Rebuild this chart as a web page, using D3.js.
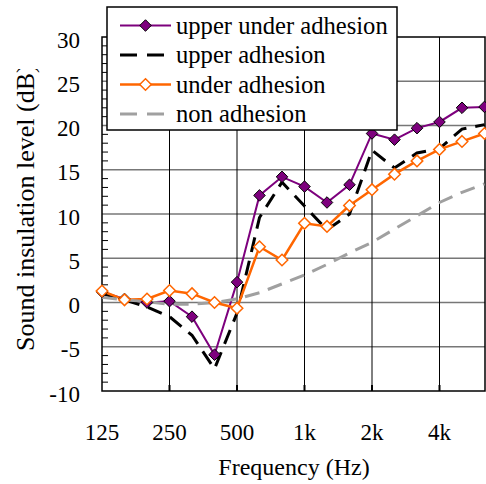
<!DOCTYPE html>
<html>
<head>
<meta charset="utf-8">
<script src="https://cdn.jsdelivr.net/npm/d3@7"></script>
</head>
<body style="margin:0">
<svg id="chart" width="486" height="484"></svg>
<script>
// One-third octave band centre frequencies (Hz)
const bands = [125, 160, 200, 250, 315, 400, 500, 630, 800, 1000, 1250, 1600, 2000, 2500, 3150, 4000, 5000, 6300];
// Octave bands that carry a label and a vertical grid line
const octaveBands = [125, 250, 500, 1000, 2000, 4000];
const octaveLabels = ["125", "250", "500", "1k", "2k", "4k"];

// Sound insulation level (dB) per band
const upperUnderAdhesion = [1.2, 0.4, 0.0, 0.15, -1.6, -5.9, 2.3, 12.1, 14.2, 13.1, 11.3, 13.3, 19.1, 18.4, 19.7, 20.4, 22.0, 22.1];
const upperAdhesion      = [1.0, 0.3, -0.5, -1.6, -3.7, -7.5, -1.2, 9.6, 13.6, 10.9, 8.2, 10.0, 17.2, 15.2, 16.9, 17.4, 19.6, 20.1];
const underAdhesion      = [1.3, 0.3, 0.4, 1.35, 1.0, 0.0, -0.65, 6.3, 4.8, 8.95, 8.6, 10.95, 12.75, 14.5, 16.0, 17.3, 18.2, 19.1];
const nonAdhesion        = [0.6, 0.3, 0.1, -0.2, -0.2, 0.0, 0.4, 1.1, 2.1, 3.1, 4.3, 5.6, 6.8, 8.3, 9.8, 11.3, 12.45, 13.4];

const yTicks = [-10, -5, 0, 5, 10, 15, 20, 25, 30];

const series = [
  { name: "upper under adhesion", values: upperUnderAdhesion, color: "#7D007D", width: 2, dash: null, marker: "filled" },
  { name: "upper adhesion",       values: upperAdhesion,      color: "#000000", width: 3, dash: "15,9", marker: null },
  { name: "under adhesion",       values: underAdhesion,      color: "#FF6600", width: 2.5, dash: null, marker: "open" },
  { name: "non adhesion",         values: nonAdhesion,        color: "#A0A0A0", width: 3, dash: "15,9", marker: null }
];

const FONT = "Liberation Serif";

const svg = d3.select("#chart");
const plot = { left: 102, right: 484.5, top: 37, bottom: 391 };

const x = d3.scalePoint().domain(bands).range([plot.left, plot.right]);
const y = d3.scaleLinear().domain([-10, 30]).range([plot.bottom, plot.top]);

function label(sel) {
  return sel.attr("font-family", FONT).style("font-family", FONT).attr("fill", "#000");
}

// Horizontal grid lines every 5 dB
svg.append("g").selectAll("line")
  .data(yTicks.filter(d => d > -10 && d < 30))
  .join("line")
  .attr("x1", plot.left).attr("x2", plot.right + 0.5)
  .attr("y1", d => y(d)).attr("y2", d => y(d))
  .attr("stroke", "#777").attr("stroke-width", 1.5);

// Vertical grid lines at octave bands
svg.append("g").selectAll("line")
  .data(octaveBands.slice(1))
  .join("line")
  .attr("x1", d => x(d)).attr("x2", d => x(d))
  .attr("y1", plot.top).attr("y2", plot.bottom)
  .attr("stroke", "#000").attr("stroke-width", 1);

// Small inward ticks on the bottom axis
svg.append("g").selectAll("line")
  .data(octaveBands.slice(1))
  .join("line")
  .attr("x1", d => x(d)).attr("x2", d => x(d))
  .attr("y1", plot.bottom - 6).attr("y2", plot.bottom)
  .attr("stroke", "#000").attr("stroke-width", 2);

// Minor ticks every 1 dB on the left axis
svg.append("g").selectAll("line")
  .data(d3.range(-10, 31).filter(d => d % 5 !== 0))
  .join("line")
  .attr("x1", plot.left).attr("x2", plot.left + 6)
  .attr("y1", d => y(d)).attr("y2", d => y(d))
  .attr("stroke", "#000").attr("stroke-width", 1);

// Plot frame
svg.append("rect")
  .attr("x", plot.left).attr("y", plot.top)
  .attr("width", plot.right + 0.5 - plot.left).attr("height", plot.bottom - plot.top)
  .attr("fill", "none").attr("stroke", "#000").attr("stroke-width", 1.5);

// Series lines
const line = d3.line().x((d, i) => x(bands[i])).y(d => y(d));
series.forEach(s => {
  svg.append("path")
    .datum(s.values)
    .attr("d", line)
    .attr("fill", "none")
    .attr("stroke", s.color)
    .attr("stroke-width", s.width)
    .attr("stroke-dasharray", s.dash)
    .attr("stroke-linejoin", "miter");
});

// Diamond markers
const diamond = d3.symbol().type(d3.symbolDiamond2).size(85);
function drawMarker(g, s) {
  if (s.marker === "filled") {
    g.attr("d", diamond).attr("fill", s.color).attr("stroke", "#000").attr("stroke-width", 1);
  } else {
    g.attr("d", diamond).attr("fill", "#fff").attr("stroke", s.color).attr("stroke-width", 1.5);
  }
}
series.filter(s => s.marker).forEach(s => {
  svg.append("g").selectAll("path")
    .data(s.values)
    .join("path")
    .attr("transform", (d, i) => `translate(${x(bands[i])},${y(d)})`)
    .call(g => drawMarker(g, s));
});

// Y tick labels
svg.append("g").selectAll("text")
  .data(yTicks)
  .join("text")
  .attr("x", 80).attr("y", d => y(d) + 10.5)
  .attr("text-anchor", "end")
  .attr("font-size", 23)
  .call(label)
  .text(d => d);

// X tick labels
svg.append("g").selectAll("text")
  .data(octaveBands)
  .join("text")
  .attr("x", d => x(d)).attr("y", 440)
  .attr("text-anchor", "middle")
  .attr("font-size", 23)
  .call(label)
  .text((d, i) => octaveLabels[i]);

// Axis titles
svg.append("text")
  .attr("x", 294).attr("y", 475)
  .attr("text-anchor", "middle")
  .attr("font-size", 24)
  .call(label)
  .text("Frequency (Hz)");

svg.append("clipPath").attr("id", "ytitle-clip")
  .append("rect").attr("x", 0).attr("y", 69).attr("width", 60).attr("height", 400);
svg.append("g")
  .attr("clip-path", "url(#ytitle-clip)")
  .append("text")
  .attr("transform", "translate(34,351) rotate(-90)")
  .attr("text-anchor", "start")
  .attr("font-size", 26)
  .call(label)
  .text("Sound insulation level (dB)");

// Legend
const legend = svg.append("g");
legend.append("rect")
  .attr("x", 107).attr("y", 7).attr("width", 290).attr("height", 123)
  .attr("fill", "#fff").attr("stroke", "#000").attr("stroke-width", 1.5);
series.forEach((s, i) => {
  const ly = 25.5 + i * 29.5;
  legend.append("line")
    .attr("x1", 120).attr("x2", 171).attr("y1", ly).attr("y2", ly)
    .attr("stroke", s.color).attr("stroke-width", s.width)
    .attr("stroke-dasharray", s.dash ? "17,10" : null);
  if (s.marker) {
    legend.append("path")
      .attr("transform", `translate(145.5,${ly})`)
      .call(g => drawMarker(g, s));
  }
  legend.append("text")
    .attr("x", 176).attr("y", ly + 8)
    .attr("font-size", 24.6)
    .call(label)
    .text(s.name);
});
</script>
</body>
</html>
